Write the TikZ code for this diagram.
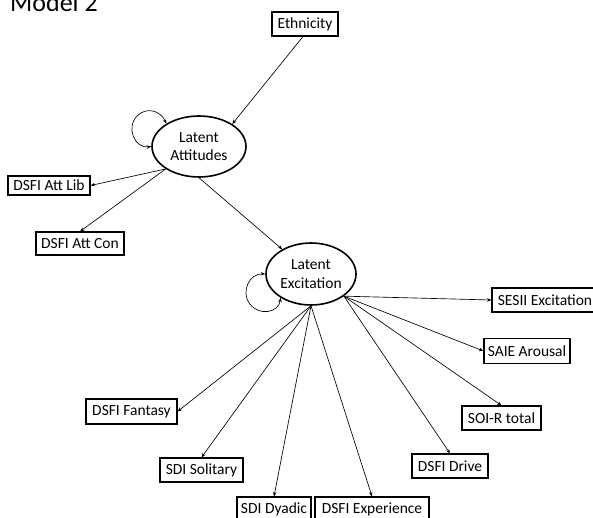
\documentclass[tikz,border=0pt]{standalone}
\usepackage{fontspec}
\setmainfont{Carlito}
\usetikzlibrary{shapes.geometric,arrows.meta}
\begin{document}
\begin{tikzpicture}[x=1pt,y=-1pt,
  lbl/.style={font=\fontsize{15.5}{18.7}\selectfont},
  obs/.style={lbl, draw, rectangle, line width=1.1pt, inner sep=0pt},
  latent/.style={lbl, draw, ellipse, line width=1.6pt, inner sep=0pt, align=center},
  tip/.tip={Stealth[length=4.5pt,width=3.5pt]},
  regress/.style={line width=0.65pt, -tip},
  variance/.style={line width=0.65pt, tip-tip}]
\useasboundingbox (0,0) rectangle (593,518);

% heading
\node[font=\fontsize{26}{30}\selectfont, anchor=base west, inner sep=0pt] (title) at (10,12) {Model 2};

% latent variables
\node[latent, minimum width=94pt, minimum height=61pt] (att) at (199,146.5) {Latent\\Attitudes};
\node[latent, minimum width=90pt, minimum height=62pt] (exc) at (311,274) {Latent\\Excitation};

% observed variables
\node[obs, minimum width=66pt, minimum height=24pt] (eth) at (305,24) {Ethnicity};
\node[obs, minimum width=82pt, minimum height=19pt] (lib) at (49,185.5) {DSFI Att Lib};
\node[obs, minimum width=88pt, minimum height=23pt] (con) at (80,243.5) {DSFI Att Con};
\node[obs, minimum width=106pt, minimum height=24pt] (sesii) at (545,300) {SESII Excitation};
\node[obs, minimum width=86pt, minimum height=25pt] (saie) at (527,351) {SAIE Arousal};
\node[obs, minimum width=79pt, minimum height=24pt] (soi) at (501.5,418) {SOI-R total};
\node[obs, minimum width=76pt, minimum height=24pt] (drive) at (450,466) {DSFI Drive};
\node[obs, minimum width=114pt, minimum height=24pt] (exper) at (372,509) {DSFI Experience};
\node[obs, minimum width=74pt, minimum height=24pt] (dyad) at (274,509) {SDI Dyadic};
\node[obs, minimum width=83pt, minimum height=24pt] (sol) at (201.5,470) {SDI Solitary};
\node[obs, minimum width=91pt, minimum height=25pt] (fant) at (131.5,411.5) {DSFI Fantasy};

% structural paths
\draw[regress] ([xshift=-2pt]eth.south) -- (att.34);
\draw[regress] (att.south) -- (exc);

% attitude indicators
\draw[regress] (att.214) -- (lib.east);
\draw[regress] (att.214) -- (con.north);

% excitation indicators
\draw[regress] (exc.-34) -- (sesii.west);
\draw[regress] (exc.-34) -- (saie.west);
\draw[regress] (exc.-34) -- (soi.north);
\draw[regress] (exc.-34) -- (drive.north);
\draw[regress] (exc.south) -- (exper.north);
\draw[regress] (exc.south) -- (dyad.north);
\draw[regress] (exc.south) -- (sol.north);
\draw[regress] (exc.south) -- (fant.east);

% variance loops
\coordinate (attloop) at (137.3,115.8);
\draw[variance] (att.145) .. controls (160.5,110.6) and (146.6,106.5) .. (attloop)
  .. controls (125.3,127.8) and (135.1,148.8) .. (att.180);
\coordinate (excloop) at (249.5,303.5);
\draw[variance] (exc.180) .. controls (249.9,273.2) and (240.5,291.2) .. (excloop)
  .. controls (259.1,316.8) and (278.8,312.5) .. (exc.218);
\end{tikzpicture}
\end{document}
